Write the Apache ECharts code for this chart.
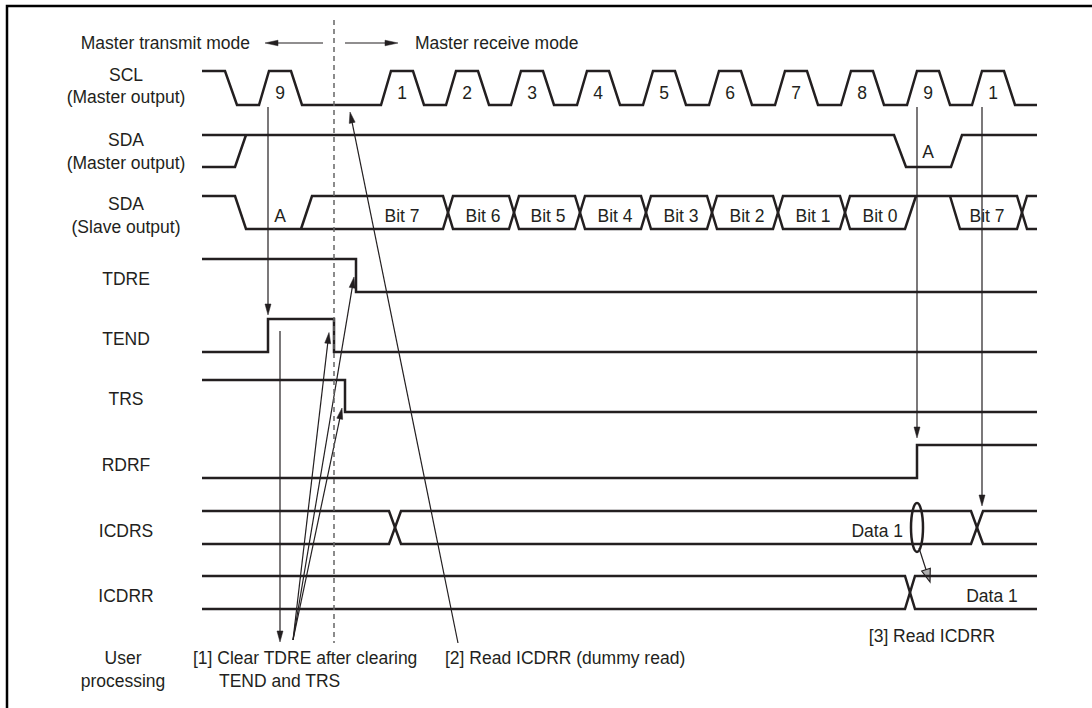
<!DOCTYPE html>
<html><head><meta charset="utf-8">
<script src="https://cdn.jsdelivr.net/npm/echarts@6/dist/echarts.min.js"></script>
<style>html,body{margin:0;padding:0;background:#fff}#c{width:1092px;height:708px}</style>
</head><body><div id="c"></div>
<script>
// ================= DATA (time = diagram time units along the x axis) =================
const signalNames = ['SCL','SDA_M','SDA_S','TDRE','TEND','TRS','RDRF','ICDRS','ICDRR'];
const signalLabels = [['SCL','(Master output)'],['SDA','(Master output)'],['SDA','(Slave output)'],['TDRE'],['TEND'],['TRS'],['RDRF'],['ICDRS'],['ICDRR']];
const timeStart = 202, timeEnd = 1037;
const sclFirstFall = 225;
const sclRiseTimes = [259, 381, 446, 511, 577, 643, 709, 775, 841, 907, 972];
const sclPulseLabels = ['9','1','2','3','4','5','6','7','8','9','1'];
const sdaMasterInitialRise = 235;
const sdaMasterAck = [894, 951];          // fall start, rise start
const sdaSlaveAck = [235, 301];           // fall start, rise start
const sdaSlaveCrossings = [448, 514, 580, 646, 712, 778, 845];
const sdaSlaveRelease = 905;
const sdaSlaveNextStart = 950;
const sdaSlaveNextCross = 1022;
const sdaSlaveLabels = ['Bit 7','Bit 6','Bit 5','Bit 4','Bit 3','Bit 2','Bit 1','Bit 0','Bit 7'];
const sdaSlaveLabelTimes = [402, 483, 548, 615, 681, 747, 813, 880, 987];
const ackLabelTimes = [280, 928];
const tdreEdges = [[202,1],[356,0]];
const tendEdges = [[202,0],[268,1],[334,0]];
const trsEdges  = [[202,1],[345,0]];
const rdrfEdges = [[202,0],[917,1]];
const icdrsCrossings = [395, 977];
const icdrrCrossings = [910];
const dataLabel = 'Data 1';
const modeSwitchTime = 334;
const userClearTime = 280, userFanTime = 293, userReadTime = 458;
const modeTexts = ['Master transmit mode', 'Master receive mode'];
const userTexts = ['[1] Clear TDRE after clearing', 'TEND and TRS', '[2] Read ICDRR (dummy read)', '[3] Read ICDRR'];

// ================= LAYOUT =================
const rowHigh = {SCL:71, SDA_M:135, SDA_S:196, TDRE:259, TEND:319, TRS:380, RDRF:445, ICDRS:511, ICDRR:576};
const rowLow  = {SCL:105, SDA_M:167, SDA_S:229, TDRE:292, TEND:352, TRS:412, RDRF:478, ICDRS:544, ICDRR:609};
const lvl = (s, v) => v ? rowHigh[s] : rowLow[s];
const mid = s => (rowHigh[s] + rowLow[s]) / 2;
const INK = '#231f20';
const FONT = '17.5px "Liberation Sans", Arial, sans-serif';
const labelX = 126, userY = 642, modeY = 43, userLineY = [658, 681];

// ================= BUILD SHAPES =================
const lines = []; // {pts, style}
function addLine(pts, style) { lines.push({pts, style: style || {}}); }

// SCL
(function(){
  const s='SCL', pts=[[timeStart,lvl(s,1)],[sclFirstFall,lvl(s,1)],[sclFirstFall+12,lvl(s,0)]];
  sclRiseTimes.forEach(r=>{ pts.push([r,lvl(s,0)],[r+10,lvl(s,1)],[r+32,lvl(s,1)],[r+43,lvl(s,0)]); });
  pts.push([timeEnd,lvl(s,0)]);
  addLine(pts);
})();
// SDA master
addLine([[timeStart,lvl('SDA_M',1)],[sdaMasterAck[0],lvl('SDA_M',1)],[sdaMasterAck[0]+12,lvl('SDA_M',0)],[sdaMasterAck[1],lvl('SDA_M',0)],[sdaMasterAck[1]+11,lvl('SDA_M',1)],[timeEnd,lvl('SDA_M',1)]]);
addLine([[timeStart,lvl('SDA_M',0)],[sdaMasterInitialRise,lvl('SDA_M',0)],[sdaMasterInitialRise+11,lvl('SDA_M',1)]]);
// SDA slave
(function(){
  const s='SDA_S', H=lvl(s,1), L=lvl(s,0);
  const A=[[timeStart,H],[sdaSlaveAck[0],H],[sdaSlaveAck[0]+11,L]];
  const B=[[sdaSlaveAck[1],L],[sdaSlaveAck[1]+11,H]];
  let a=0, b=1;
  sdaSlaveCrossings.forEach(c=>{
    A.push([c-5, a?H:L],[c+5, a?L:H]); a=1-a;
    B.push([c-5, b?H:L],[c+5, b?L:H]); b=1-b;
  });
  A.push([sdaSlaveNextCross-5, a?H:L],[sdaSlaveNextCross+5, a?L:H],[timeEnd, a?L:H]);
  B.push([sdaSlaveRelease, b?H:L],[sdaSlaveRelease+11, H]);
  const C=[[sdaSlaveNextStart,H],[sdaSlaveNextStart+10,L],[sdaSlaveNextCross-5,L],[sdaSlaveNextCross+5,H],[timeEnd,H]];
  addLine(A); addLine(B); addLine(C);
})();
// Flags
function stepLine(s, edges){
  const pts=[]; let cur=edges[0][1];
  pts.push([edges[0][0], lvl(s,cur)]);
  for(let i=1;i<edges.length;i++){ pts.push([edges[i][0],lvl(s,cur)]); cur=edges[i][1]; pts.push([edges[i][0],lvl(s,cur)]); }
  pts.push([timeEnd,lvl(s,cur)]);
  addLine(pts);
}
stepLine('TDRE', tdreEdges); stepLine('TEND', tendEdges); stepLine('TRS', trsEdges); stepLine('RDRF', rdrfEdges);
// Buses
function busLines(s, crossings, hw){
  const H=lvl(s,1), L=lvl(s,0); const A=[[timeStart,H]], B=[[timeStart,L]]; let a=1;
  crossings.forEach(c=>{ A.push([c-hw,a?H:L],[c+hw,a?L:H]); B.push([c-hw,a?L:H],[c+hw,a?H:L]); a=1-a; });
  A.push([timeEnd,a?H:L]); B.push([timeEnd,a?L:H]);
  addLine(A); addLine(B);
}
busLines('ICDRS', icdrsCrossings, 6); busLines('ICDRR', icdrrCrossings, 5);
// frame + dashed mode boundary
addLine([[7,708],[7,6],[1092,6]], {width:2.5, color:'#000'});
addLine([[modeSwitchTime,20],[modeSwitchTime,userY+1]], {width:1.5, color:'#666', type:[5,4]});

// Arrows
const arrows = [
  {from:[modeSwitchTime-11,modeY], to:[265,modeY], hl:13, hw:2.8},
  {from:[modeSwitchTime+11,modeY], to:[398,modeY], hl:13, hw:2.8},
  {from:[tendEdges[1][0], rowLow.SCL+2], to:[tendEdges[1][0], rowHigh.TEND-4]},
  {from:[userClearTime, rowHigh.TEND+12], to:[userClearTime, userY]},
  {from:[userFanTime, userY-2], to:[tendEdges[2][0]-5, mid('TEND')-3]},
  {from:[userFanTime, userY-2], to:[tdreEdges[1][0]-2, rowHigh.TDRE+18]},
  {from:[userFanTime, userY-2], to:[trsEdges[1][0]-3, rowLow.TRS-4]},
  {from:[userReadTime, userY+1], to:[350, rowLow.SCL+7]},
  {from:[rdrfEdges[1][0], rowLow.SCL+2], to:[rdrfEdges[1][0], rowHigh.RDRF-7]},
  {from:[icdrsCrossings[1]+5, rowLow.SCL+2], to:[icdrsCrossings[1]+5, rowHigh.ICDRS-5]},
  {from:[919, rowLow.ICDRS+4], to:[930, rowHigh.ICDRR+6], hl:13, hw:4.5, fill:'#b0b0b0'}
];

// Texts
const texts = [];
function addText(x,y,t,align,extra){ texts.push(Object.assign({x,y,t,align:align||'center'}, extra||{})); }
addText(250, modeY, modeTexts[0], 'right');
addText(415, modeY, modeTexts[1], 'left');
const labelOffsets = {SCL:[-13,9], SDA_M:[-11,12], SDA_S:[-9,14]};
signalNames.forEach((s,i)=>{
  const l = signalLabels[i];
  if (l.length===2){ const o=labelOffsets[s]; addText(labelX, mid(s)+o[0], l[0]); addText(labelX, mid(s)+o[1], l[1]); }
  else addText(labelX, mid(s)+3, l[0]);
});
addText(labelX-3, userLineY[0], 'User'); addText(labelX-3, userLineY[1], 'processing');
sclRiseTimes.forEach((r,i)=>addText(r+21, rowLow.SCL-12, sclPulseLabels[i]));
addText(ackLabelTimes[1], mid('SDA_M')+1, 'A');
addText(ackLabelTimes[0], mid('SDA_S')+3, 'A');
sdaSlaveLabels.forEach((t,i)=>addText(sdaSlaveLabelTimes[i], mid('SDA_S')+3, t));
addText(193, userLineY[0], userTexts[0], 'left');
addText(219, userLineY[1], userTexts[1], 'left');
addText(445, userLineY[0], userTexts[2], 'left');
addText(932, 636, userTexts[3], 'center');
addText(992, mid('ICDRR')+3, dataLabel, 'center');
addText(907, mid('ICDRS')+3, dataLabel, 'right', {bg:true});

// ================= CHART =================
const series = [];
lines.forEach(l=>series.push({
  type:'line', data:l.pts, showSymbol:false, symbol:'none', silent:true, animation:false, clip:false,
  lineStyle:{width:l.style.width||2.5, color:l.style.color||INK, type:l.style.type||'solid', join:'miter', cap:'butt'}
}));
// ellipse (ICDRS → ICDRR read)
series.push({type:'custom', silent:true, animation:false, clip:false,
  data:[[rdrfEdges[1][0], mid('ICDRS')]],
  renderItem:(p,api)=>{ const c=api.coord([api.value(0),api.value(1)]);
    return {type:'ellipse', shape:{cx:c[0], cy:c[1], rx:6, ry:24.5}, style:{fill:null, stroke:INK, lineWidth:2.5}}; }
});
series.push({type:'custom', silent:true, animation:false, clip:false,
  data: arrows.map(a=>[a.from[0],a.from[1],a.to[0],a.to[1]]), encode:{x:[0,2], y:[1,3]},
  renderItem:(params,api)=>{
    const a=arrows[params.dataIndex];
    const p1=api.coord([api.value(0),api.value(1)]), p2=api.coord([api.value(2),api.value(3)]);
    const dx=p2[0]-p1[0], dy=p2[1]-p1[1], L=Math.hypot(dx,dy), ux=dx/L, uy=dy/L;
    const hl=a.hl||11, hw=a.hw||3;
    const bx=p2[0]-ux*hl, by=p2[1]-uy*hl, px=-uy, py=ux;
    return {type:'group', children:[
      {type:'line', shape:{x1:p1[0],y1:p1[1],x2:bx+ux*2,y2:by+uy*2}, style:{stroke:INK, lineWidth:1.2}},
      {type:'polygon', shape:{points:[[p2[0],p2[1]],[bx+px*hw,by+py*hw],[bx-px*hw,by-py*hw]]},
       style:{fill:a.fill||INK, stroke:INK, lineWidth:a.fill?1.2:0.5}}
    ]};
  }
});
series.push({type:'custom', silent:true, animation:false, clip:false,
  data: texts.map(t=>[t.x,t.y]),
  renderItem:(params,api)=>{
    const t=texts[params.dataIndex]; const p=api.coord([api.value(0),api.value(1)]);
    const st={text:t.t, font:FONT, fill:INK, align:t.align, verticalAlign:'middle'};
    if (t.bg){ st.backgroundColor='#fff'; st.padding=[0,4,0,2]; }
    return {type:'text', x:p[0], y:p[1], style:st};
  }
});

const chart = echarts.init(document.getElementById('c'), null, {renderer:'svg', width:1092, height:708});
chart.setOption({
  animation:false, backgroundColor:'#fff',
  grid:{left:0, right:0, top:0, bottom:0, containLabel:false},
  xAxis:{type:'value', min:0, max:1092, show:false},
  yAxis:{type:'value', min:0, max:708, inverse:true, show:false},
  series
});
</script></body></html>
